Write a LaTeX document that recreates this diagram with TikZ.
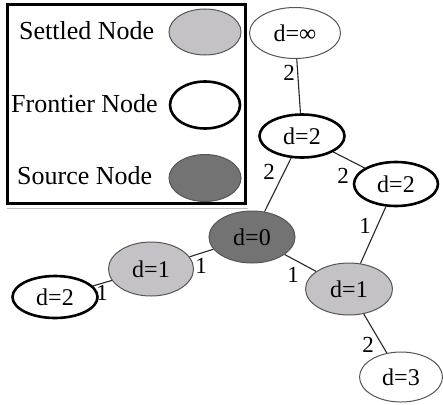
\documentclass[tikz,border=0pt]{standalone}
\usepackage{fontspec}
\setmainfont{Liberation Serif}
\usetikzlibrary{shapes.geometric}
\definecolor{settledfill}{HTML}{C4C2C7}
\definecolor{sourcefill}{HTML}{727372}
\definecolor{thinborder}{HTML}{555555}
\tikzset{
  gnode/.style={ellipse, inner sep=0pt, font=\fontsize{24}{24}\selectfont},
  settled/.style={gnode, draw=thinborder, line width=1pt, fill=settledfill},
  frontier/.style={gnode, draw=black, line width=2.6pt, fill=white},
  unseen/.style={gnode, draw=thinborder, line width=1pt, fill=white},
  source/.style={gnode, draw=thinborder, line width=1pt, fill=sourcefill},
  edge/.style={draw=black!85, line width=1.1pt},
  wlabel/.style={inner sep=0pt, font=\fontsize{23}{23}\selectfont},
  legtext/.style={inner sep=0pt, anchor=base west, font=\fontsize{26}{26}\selectfont},
}
\begin{document}
\begin{tikzpicture}[x=1pt,y=-1pt]
\useasboundingbox (0,0) rectangle (443,404);
% legend
\draw[gray!50, line width=1pt] (7,208) -- (248,208);
\node[draw=black, line width=3pt, minimum width=238pt, minimum height=198pt, inner sep=0pt] (legend) at (126,104) {};
\node[legtext] (lt1) at (19,39) {Settled Node};
\node[legtext] (lt2) at (11,112) {Frontier Node};
\node[legtext] (lt3) at (17,184) {Source Node};
\node[settled, minimum width=72pt, minimum height=46pt] (ls) at (205,32) {};
\node[frontier, minimum width=70pt, minimum height=47pt] (lf) at (205,105) {};
\node[source, minimum width=72pt, minimum height=47pt] (lsrc) at (205,178) {};
% graph nodes
\node[unseen, minimum width=91pt, minimum height=51pt] (ninf) at (295,33) {d=∞};
\node[frontier, minimum width=85pt, minimum height=43pt] (nu) at (302,136) {d=2};
\node[frontier, minimum width=84pt, minimum height=44pt] (nr) at (396,184) {d=2};
\node[source, minimum width=86pt, minimum height=52pt] (n0) at (252,237) {d=0};
\node[settled, minimum width=87pt, minimum height=52pt] (n1r) at (349,289) {d=1};
\node[unseen, minimum width=83pt, minimum height=50pt] (n3) at (401,377) {d=3};
\node[settled, minimum width=85pt, minimum height=54pt] (n1l) at (151,269) {d=1};
\node[frontier, minimum width=85pt, minimum height=42pt] (n2l) at (55,297) {d=2};
% edges
\draw[edge] (ninf) -- (nu);
\draw[edge] (nu) -- (nr);
\draw[edge] (nu) -- (n0);
\draw[edge] (nr) -- (n1r);
\draw[edge] (n0) -- (n1r);
\draw[edge] (n1r) -- (n3);
\draw[edge] (n0) -- (n1l);
\draw[edge] (n1l) -- (n2l);
% weights
\node[wlabel] (w1) at (289,73) {2};
\node[wlabel] (w2) at (343,176) {2};
\node[wlabel] (w3) at (269,172) {2};
\node[wlabel] (w4) at (365,226) {1};
\node[wlabel] (w5) at (293,275) {1};
\node[wlabel] (w6) at (368,345) {2};
\node[wlabel] (w7) at (201,266) {1};
\node[wlabel] (w8) at (102,293) {1};
\end{tikzpicture}
\end{document}
